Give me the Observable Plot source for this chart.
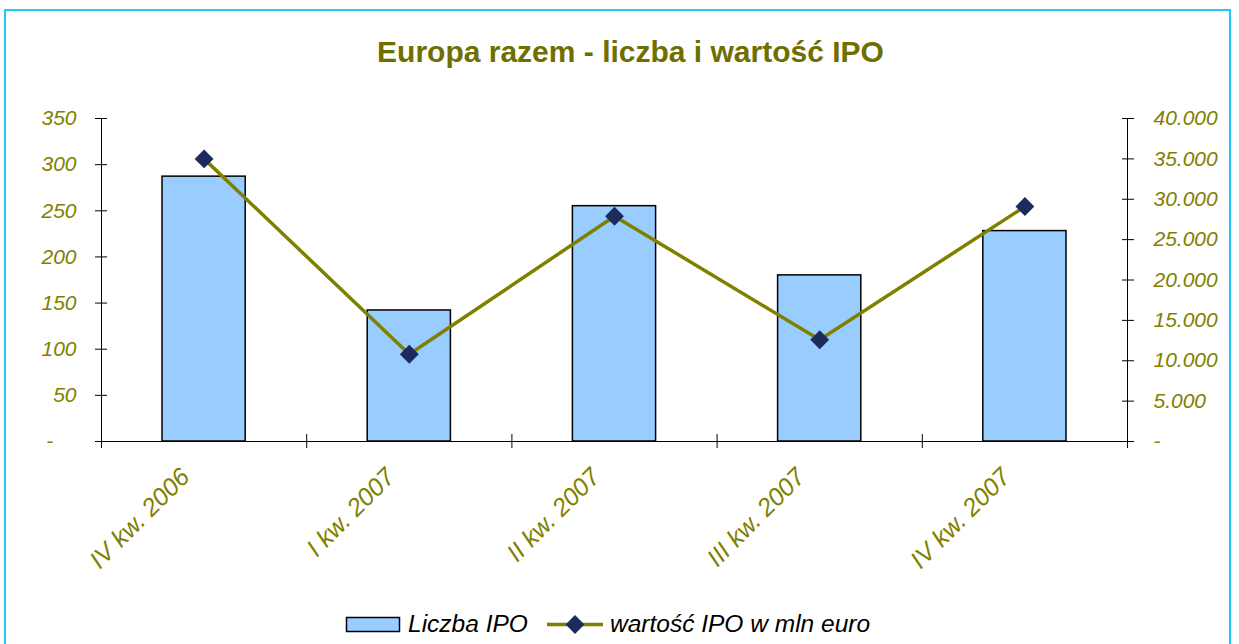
<!DOCTYPE html>
<html>
<head>
<meta charset="utf-8">
<script src="https://cdn.jsdelivr.net/npm/d3@7"></script>
<script src="https://cdn.jsdelivr.net/npm/@observablehq/plot@0.6"></script>
<style>
  html, body { margin: 0; padding: 0; background: #fff; overflow: hidden; }
  #wrap { position: relative; width: 1239px; height: 644px; overflow: hidden; font-family: "Liberation Sans", Arial, sans-serif; }
  #frame { position: absolute; left: 4px; top: 9px; width: 1227px; height: 700px; border: 2px solid #1ecbf7; box-sizing: border-box; }
  #title { position: absolute; left: 0; top: 37px; width: 1261px; text-align: center; font-size: 30px; line-height: 30px; font-weight: bold; color: #6f6f00; }
  #chart { position: absolute; left: 0; top: 0; }
  #legend { position: absolute; left: 0; top: 600px; }
</style>
</head>
<body>
<div id="wrap">
  <div id="frame"></div>
  <div id="chart"></div>
  <div id="title">Europa razem - liczba i wartość IPO</div>
  <svg id="legend" width="1239" height="44"></svg>
</div>
<script>
const categories = ["IV kw. 2006", "I kw. 2007", "II kw. 2007", "III kw. 2007", "IV kw. 2007"];
const liczbaIPO = [287, 142, 255, 180, 228];
const wartoscIPO = [35000, 10800, 27900, 12600, 29100];
const leftTicks = [0, 50, 100, 150, 200, 250, 300, 350];
const rightTicks = [0, 5000, 10000, 15000, 20000, 25000, 30000, 35000, 40000];

const olive = "#808000";
const k = 350 / 40000;
const rows = categories.map((c, i) => ({i, cat: c, liczba: liczbaIPO[i], wartosc: wartoscIPO[i]}));
const fmtRight = v => v === 0 ? "-" : d3.format(",")(v).replace(/,/g, ".");
const fmtLeft = v => v === 0 ? "-\u00a0\u00a0\u00a0\u00a0" : String(v);

const chart = Plot.plot({
  width: 1239,
  height: 644,
  marginLeft: 101,
  marginRight: 112,
  marginTop: 118,
  marginBottom: 203,
  style: {fontFamily: "'Liberation Sans', Arial, sans-serif", background: "transparent"},
  x: {domain: [0, categories.length], axis: null},
  y: {domain: [0, 350], axis: null},
  marks: [
    Plot.rectY(rows, {x1: d => d.i, x2: d => d.i + 1, y: "liczba", fill: "#99ccff", stroke: "#000", strokeWidth: 1.5, insetLeft: 61, insetRight: 61}),
    Plot.ruleY([0], {stroke: "#000", strokeWidth: 1}),
    Plot.ruleX([0, categories.length], {stroke: "#000", strokeWidth: 1, insetBottom: -7}),
    Plot.axisX(d3.range(categories.length + 1), {anchor: "bottom", tickSize: 14, dy: -7, tickFormat: () => "", stroke: "#000", label: null}),
    Plot.axisY(leftTicks, {anchor: "left", tickSize: 12, dx: 6, tickFormat: () => "", stroke: "#000", label: null}),
    Plot.axisY(leftTicks, {anchor: "left", tickSize: 0, tickPadding: 25, tickFormat: fmtLeft, fill: olive, fontSize: 21, fontStyle: "italic", label: null}),
    Plot.axisY(rightTicks.map(v => v * k), {anchor: "right", tickSize: 12, dx: -6, tickFormat: () => "", stroke: "#000", label: null}),
    Plot.axisY(rightTicks.map(v => v * k), {anchor: "right", tickSize: 0, tickPadding: 26, tickFormat: d => fmtRight(Math.round(d / k)), fill: olive, fontSize: 21, fontStyle: "italic", label: null}),
    Plot.text(rows, {x: d => d.i + 0.5, frameAnchor: "bottom", text: "cat", rotate: -45, textAnchor: "end", dx: -13, dy: 37, fontSize: 25, fontStyle: "italic", fill: olive}),
    Plot.line(rows, {x: d => d.i + 0.5, y: d => d.wartosc * k, stroke: olive, strokeWidth: 3.5}),
    Plot.dot(rows, {x: d => d.i + 0.5, y: d => d.wartosc * k, symbol: "diamond2", r: 8.5, fill: "#1c2a5e", stroke: "none"})
  ]
});
document.getElementById("chart").appendChild(chart);

// legend
const lg = d3.select("#legend");
lg.append("rect").attr("x", 346.5).attr("y", 17.5).attr("width", 53).attr("height", 14).attr("fill", "#99ccff").attr("stroke", "#000").attr("stroke-width", 1.5);
lg.append("text").attr("x", 408).attr("y", 32).attr("font-size", 24.5).attr("font-style", "italic").attr("font-family", "'Liberation Sans', Arial, sans-serif").attr("fill", "#000").text("Liczba IPO");
lg.append("line").attr("x1", 547).attr("x2", 603).attr("y1", 24.5).attr("y2", 24.5).attr("stroke", olive).attr("stroke-width", 3.5);
lg.append("path").attr("d", d3.symbol(d3.symbolDiamond2, Math.PI * 8.5 * 8.5)()).attr("transform", "translate(575,24.5)").attr("fill", "#1c2a5e");
lg.append("text").attr("x", 610).attr("y", 32).attr("font-size", 24.5).attr("font-style", "italic").attr("font-family", "'Liberation Sans', Arial, sans-serif").attr("fill", "#000").text("wartość IPO w mln euro");
</script>
</body>
</html>
